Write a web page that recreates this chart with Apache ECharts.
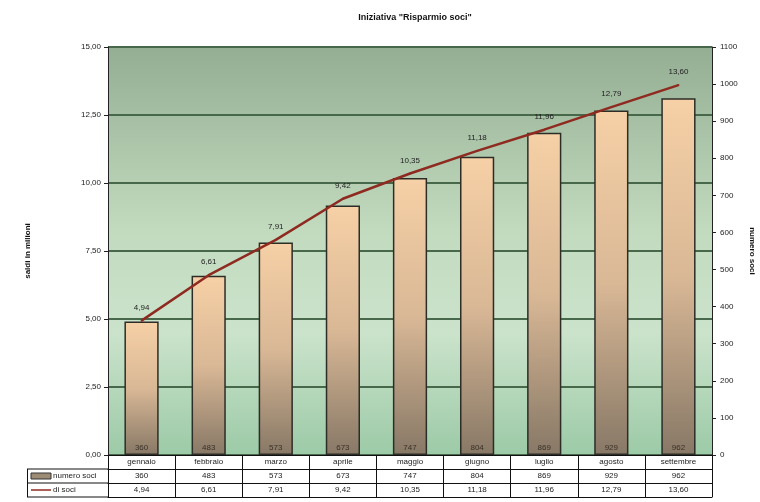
<!DOCTYPE html>
<html>
<head>
<meta charset="utf-8">
<script src="https://cdn.jsdelivr.net/npm/echarts@6/dist/echarts.min.js"></script>
<style>html,body{margin:0;padding:0;background:#fff}#c{width:760px;height:502px}</style>
</head>
<body>
<div id="c"></div>
<script>
const categories = ['gennaio','febbraio','marzo','aprile','maggio','giugno','luglio','agosto','settembre'];
const numeroSoci = [360,483,573,673,747,804,869,929,962];
const saldiSoci = [4.94,6.61,7.91,9.42,10.35,11.18,11.96,12.79,13.60];
const barName = 'numero soci';
const lineName = 'di soci';
const titleText = 'Iniziativa "Risparmio soci"';

const FONT = 'Liberation Sans, Arial, sans-serif';
const G = {left:108, right:48, top:47, bottom:47};
const ROW = 14;
const fmtIt = v => Number(v).toFixed(2).replace('.', ',');

const chart = echarts.init(document.getElementById('c'));
function tableAxis(offset, formatter, showLabel, showTick) {
  return {
    type:'category', data:categories, position:'bottom', offset:offset, gridIndex:0,
    boundaryGap:true,
    axisLine:{show:true, onZero:false, lineStyle:{color:'#111', width:1}},
    axisTick:{show:showTick, interval:0, length:ROW, inside:false, lineStyle:{color:'#111', width:1}},
    axisLabel:{show:showLabel, interval:0, margin:3, fontSize:8, color:'#222', fontFamily:FONT, formatter:formatter},
    splitLine:{show:false}
  };
}
const W = 760, H = 502;
const tableTop = H - G.bottom;
chart.setOption({
  animation:false,
  backgroundColor:'#fff',
  textStyle:{fontFamily:FONT},
  title:{text:titleText, left:(G.left + W - G.right)/2, top:8, textAlign:'center',
    textStyle:{fontSize:9, fontWeight:'bold', color:'#111', fontFamily:FONT}},
  grid:{left:G.left, right:G.right, top:G.top, bottom:G.bottom, show:true, borderWidth:0,
    outerBoundsMode:'none', containLabel:false,
    backgroundColor:new echarts.graphic.LinearGradient(0,0,0,1,[
      {offset:0,color:'#94ae93'},{offset:0.45,color:'#c2dbbf'},{offset:0.7,color:'#cbe3cb'},{offset:1,color:'#9ccaa7'}])},
  xAxis:[
    tableAxis(0, v => v, true, true),
    tableAxis(ROW, (v,i) => String(numeroSoci[i]), true, true),
    tableAxis(ROW*2, (v,i) => fmtIt(saldiSoci[i]), true, true),
    tableAxis(ROW*3, v => '', false, false)
  ],
  yAxis:[
    {type:'value', min:0, max:15, interval:2.5, position:'left',
      name:'saldi in milioni', nameLocation:'middle', nameGap:76, nameRotate:90,
      nameTextStyle:{fontSize:8, fontWeight:'bold', color:'#111', fontFamily:FONT},
      axisLine:{show:true, onZero:false, lineStyle:{color:'#222', width:1}},
      axisTick:{show:true, length:4, lineStyle:{color:'#222'}},
      axisLabel:{fontSize:8, color:'#222', margin:7, formatter:fmtIt, fontFamily:FONT},
      splitLine:{show:true, lineStyle:{color:'#47684a', width:2}}},
    {type:'value', min:0, max:1100, interval:100, position:'right',
      name:'numero soci', nameLocation:'middle', nameGap:28, nameRotate:-90,
      nameTextStyle:{fontSize:8, fontWeight:'bold', color:'#111', fontFamily:FONT},
      axisLine:{show:true, onZero:false, lineStyle:{color:'#222', width:1}},
      axisTick:{show:true, length:4, lineStyle:{color:'#222'}},
      axisLabel:{fontSize:8, color:'#222', margin:8, fontFamily:FONT, formatter:v => String(v)},
      splitLine:{show:false}}
  ],
  series:[
    {name:barName, type:'bar', xAxisIndex:0, yAxisIndex:1, data:numeroSoci, barWidth:'51%',
      itemStyle:{borderColor:'#2d2d28', borderWidth:1.5,
        color:new echarts.graphic.LinearGradient(0,0,0,1,[{offset:0,color:'#f6d0a6'},{offset:0.5,color:'#d9b896'},{offset:1,color:'#877866'}])},
      label:{show:true, position:'insideBottom', distance:3, fontSize:8, color:'#3a3026', fontFamily:FONT}},
    {name:lineName, type:'line', xAxisIndex:0, yAxisIndex:0, data:saldiSoci,
      symbol:'circle', symbolSize:2, showSymbol:true, z:5,
      itemStyle:{color:'#8e2a20', borderWidth:0},
      lineStyle:{color:'#8e2a20', width:2.5},
      labelLayout:{hideOverlap:false},
      label:{show:true, position:'top', distance:8, fontSize:8, color:'#222', fontFamily:FONT, formatter:p => fmtIt(p.value)}}
  ],
  graphic:[
    {type:'line', shape:{x1:27, y1:tableTop+ROW, x2:G.left, y2:tableTop+ROW}, style:{stroke:'#111', lineWidth:1}},
    {type:'line', shape:{x1:27, y1:tableTop+ROW*2, x2:G.left, y2:tableTop+ROW*2}, style:{stroke:'#111', lineWidth:1}},
    {type:'line', shape:{x1:27, y1:tableTop+ROW*3, x2:G.left, y2:tableTop+ROW*3}, style:{stroke:'#111', lineWidth:1}},
    {type:'line', shape:{x1:27.5, y1:tableTop+ROW, x2:27.5, y2:tableTop+ROW*3}, style:{stroke:'#111', lineWidth:1}},
    {type:'rect', shape:{x:31, y:tableTop+ROW+4, width:20, height:6},
      style:{fill:'#9c8c76', stroke:'#333', lineWidth:1}},
    {type:'text', x:53, y:tableTop+ROW+7, style:{text:barName, fontSize:8, fill:'#222', fontFamily:FONT, verticalAlign:'middle'}},
    {type:'line', shape:{x1:31, y1:tableTop+ROW*2+7, x2:51, y2:tableTop+ROW*2+7}, style:{stroke:'#8e2a20', lineWidth:1.5}},
    {type:'text', x:53, y:tableTop+ROW*2+7, style:{text:lineName, fontSize:8, fill:'#222', fontFamily:FONT, verticalAlign:'middle'}}
  ]
});
</script>
</body>
</html>
